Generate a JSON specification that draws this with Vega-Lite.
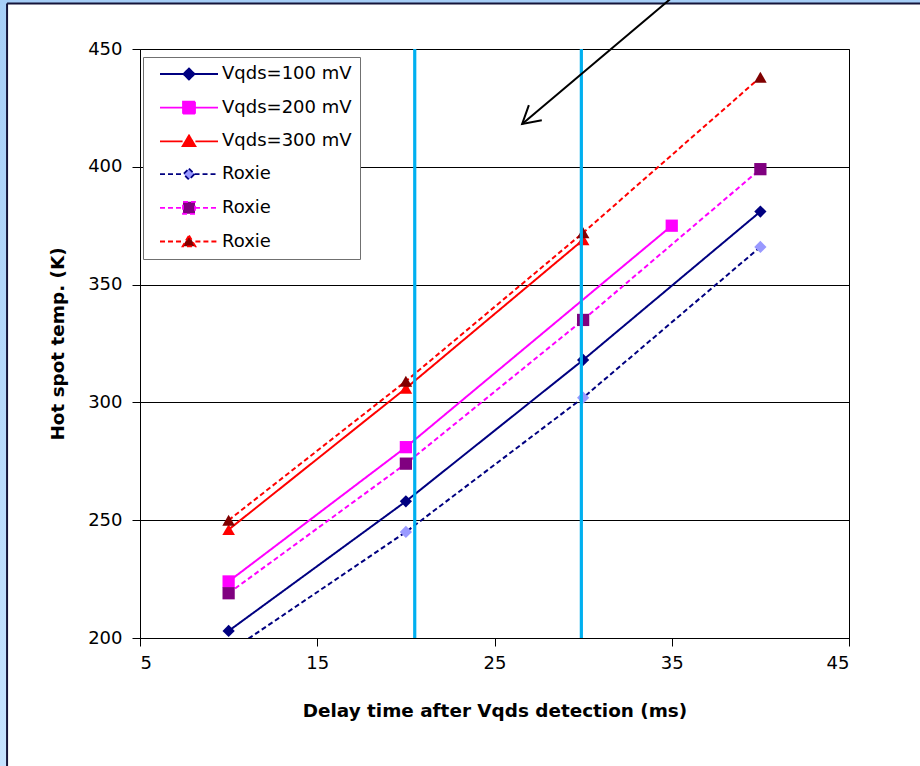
{
  "$schema": "https://vega.github.io/schema/vega-lite/v6.json",
  "width": 709,
  "height": 589,
  "autosize": {"type": "none"},
  "padding": {"left": 140, "top": 49, "right": 71, "bottom": 128},
  "background": "white",
  "config": {
    "font": "DejaVu Sans",
    "view": {"stroke": "#000000", "strokeWidth": 1},
    "axis": {
      "labelFont": "DejaVu Sans",
      "labelFontSize": 18,
      "labelColor": "black",
      "titleFont": "DejaVu Sans",
      "titleFontSize": 18.4,
      "titleFontWeight": "bold",
      "titleColor": "black",
      "domainColor": "black",
      "domainWidth": 1,
      "tickColor": "black",
      "tickSize": 8,
      "tickWidth": 1,
      "gridColor": "black",
      "gridOpacity": 1,
      "gridWidth": 1
    }
  },
  "data": {
    "values": [
      {"series": "Vqds=100 mV", "delay": 10, "temp": 203},
      {"series": "Vqds=100 mV", "delay": 20, "temp": 258},
      {"series": "Vqds=100 mV", "delay": 30, "temp": 318},
      {"series": "Vqds=100 mV", "delay": 40, "temp": 381},
      {"series": "Vqds=200 mV", "delay": 10, "temp": 224},
      {"series": "Vqds=200 mV", "delay": 20, "temp": 281},
      {"series": "Vqds=200 mV", "delay": 35, "temp": 375},
      {"series": "Vqds=300 mV", "delay": 10, "temp": 246},
      {"series": "Vqds=300 mV", "delay": 20, "temp": 306},
      {"series": "Vqds=300 mV", "delay": 30, "temp": 369},
      {"series": "Roxie 100", "delay": 10, "temp": 194},
      {"series": "Roxie 100", "delay": 20, "temp": 245},
      {"series": "Roxie 100", "delay": 30, "temp": 302},
      {"series": "Roxie 100", "delay": 40, "temp": 366},
      {"series": "Roxie 200", "delay": 10, "temp": 219},
      {"series": "Roxie 200", "delay": 20, "temp": 274},
      {"series": "Roxie 200", "delay": 30, "temp": 335},
      {"series": "Roxie 200", "delay": 40, "temp": 399},
      {"series": "Roxie 300", "delay": 10, "temp": 250},
      {"series": "Roxie 300", "delay": 20, "temp": 309},
      {"series": "Roxie 300", "delay": 30, "temp": 372},
      {"series": "Roxie 300", "delay": 40, "temp": 438}
    ]
  },
  "layer": [
    {
      "data": {"values": [{}]},
      "mark": {"type": "rect", "clip": false, "fill": {"gradient": "linear", "x1": 0, "y1": 0, "x2": 0, "y2": 1, "stops": [{"offset": 0, "color": "#a6cef7"}, {"offset": 1, "color": "#c6e3ff"}]}},
      "encoding": {
        "x": {"datum": -20, "type": "quantitative"},
        "x2": {"datum": -2.5},
        "y": {"datum": 480, "type": "quantitative"},
        "y2": {"datum": 140}
      }
    },
    {
      "data": {"values": [{}]},
      "mark": {"type": "rect", "clip": false, "fill": "#a6cef7"},
      "encoding": {
        "x": {"datum": -20, "type": "quantitative"},
        "x2": {"datum": 50},
        "y": {"datum": 480, "type": "quantitative"},
        "y2": {"datum": 469.3}
      }
    },
    {
      "data": {"values": [{}]},
      "mark": {"type": "rule", "clip": false, "color": "#15153a", "strokeWidth": 2},
      "encoding": {
        "x": {"datum": -2.5, "type": "quantitative"},
        "y": {"datum": 469.3, "type": "quantitative"},
        "y2": {"datum": 140}
      }
    },
    {
      "data": {"values": [{}]},
      "mark": {"type": "rule", "clip": false, "color": "#15153a", "strokeWidth": 2},
      "encoding": {
        "x": {"datum": -2.5, "type": "quantitative"},
        "x2": {"datum": 50},
        "y": {"datum": 469.3, "type": "quantitative"}
      }
    },
    {
      "mark": {"type": "line", "strokeWidth": 2, "clip": true},
      "encoding": {
        "x": {
          "field": "delay",
          "type": "quantitative",
          "title": "Delay time after Vqds detection (ms)",
          "scale": {"domain": [5, 45], "nice": false, "zero": false},
          "axis": {"values": [5, 15, 25, 35, 45], "grid": false, "labelPadding": 8, "titlePadding": 29, "zindex": 1}
        },
        "y": {
          "field": "temp",
          "type": "quantitative",
          "title": "Hot spot temp. (K)",
          "scale": {"domain": [200, 450], "nice": false, "zero": false},
          "axis": {"values": [200, 250, 300, 350, 400, 450], "grid": true, "labelPadding": 10, "titlePadding": 20}
        },
        "color": {
          "field": "series",
          "type": "nominal",
          "scale": {
            "domain": ["Vqds=100 mV", "Vqds=200 mV", "Vqds=300 mV", "Roxie 100", "Roxie 200", "Roxie 300"],
            "range": ["#000080", "#ff00ff", "#ff0000", "#000080", "#ff00ff", "#ff0000"]
          },
          "legend": {
            "orient": "none",
            "legendX": 3,
            "legendY": 8,
            "title": null,
            "direction": "vertical",
            "padding": 8,
            "fillColor": "white",
            "strokeColor": "#707070",
            "symbolSize": 256,
            "symbolStrokeWidth": 2,
            "symbolOffset": 29,
            "labelOffset": 24,
            "rowPadding": 13.7,
            "labelFont": "DejaVu Sans",
            "labelFontSize": 18,
            "labelColor": "black",
            "labelLimit": 300,
            "labelExpr": "indexof(datum.label, 'Roxie') == 0 ? 'Roxie' : datum.label",
            "encode": {
              "symbols": {
                "update": {
                  "shape": {"signal": "indexof(datum.value, '100') >= 0 ? 'M-3.625,0H-0.69M0.69,0H3.625M0,-0.69L0.69,0L0,0.69L-0.69,0Z' : indexof(datum.value, '200') >= 0 ? 'M-3.625,0H-0.75M0.75,0H3.625M-0.75,-0.75H0.75V0.75H-0.75Z' : 'M-3.625,0H-0.8M0.8,0H3.625M0,-0.75L0.8,0.6L-0.8,0.6Z'"},
                  "fill": {"signal": "scale('fill', datum.value)"},
                  "stroke": {"signal": "scale('color', datum.value)"},
                  "strokeDash": {"signal": "indexof(datum.value, 'Roxie') == 0 ? [4, 3] : [1, 0]"},
                  "strokeWidth": {"value": 1.8},
                  "opacity": {"value": 1}
                }
              }
            }
          }
        },
        "strokeDash": {
          "field": "series",
          "type": "nominal",
          "scale": {
            "domain": ["Vqds=100 mV", "Vqds=200 mV", "Vqds=300 mV", "Roxie 100", "Roxie 200", "Roxie 300"],
            "range": [[1, 0], [1, 0], [1, 0], [5, 3], [5, 3], [5, 3]]
          },
          "legend": null
        }
      }
    },
    {
      "transform": [{"filter": {"field": "series", "oneOf": ["Vqds=100 mV", "Roxie 100"]}}],
      "mark": {"type": "point", "shape": "diamond", "filled": true, "size": 150, "opacity": 1, "strokeWidth": 0, "clip": true},
      "encoding": {
        "x": {"field": "delay", "type": "quantitative"},
        "y": {"field": "temp", "type": "quantitative"},
        "fill": {
          "field": "series",
          "type": "nominal",
          "scale": {
            "domain": ["Vqds=100 mV", "Vqds=200 mV", "Vqds=300 mV", "Roxie 100", "Roxie 200", "Roxie 300"],
            "range": ["#000080", "#ff00ff", "#ff0000", "#9999ff", "#800080", "#800000"]
          },
          "legend": null
        }
      }
    },
    {
      "transform": [{"filter": {"field": "series", "oneOf": ["Vqds=200 mV", "Roxie 200"]}}],
      "mark": {"type": "point", "shape": "square", "filled": true, "size": 150, "opacity": 1, "strokeWidth": 0, "clip": true},
      "encoding": {
        "x": {"field": "delay", "type": "quantitative"},
        "y": {"field": "temp", "type": "quantitative"},
        "fill": {"field": "series", "type": "nominal", "legend": null}
      }
    },
    {
      "transform": [{"filter": {"field": "series", "oneOf": ["Vqds=300 mV", "Roxie 300"]}}],
      "mark": {"type": "point", "shape": "triangle-up", "filled": true, "size": 160, "opacity": 1, "strokeWidth": 0, "clip": true},
      "encoding": {
        "x": {"field": "delay", "type": "quantitative"},
        "y": {"field": "temp", "type": "quantitative"},
        "fill": {"field": "series", "type": "nominal", "legend": null}
      }
    },
    {
      "data": {"values": [{"delay": 20.5}, {"delay": 29.9}]},
      "mark": {"type": "rule", "color": "#00b0f0", "strokeWidth": 3.2},
      "encoding": {
        "x": {"field": "delay", "type": "quantitative"}
      }
    },
    {
      "data": {"values": [{}]},
      "mark": {"type": "rule", "clip": false, "color": "black", "strokeWidth": 2},
      "encoding": {
        "x": {"datum": 35.2, "type": "quantitative"},
        "y": {"datum": 473, "type": "quantitative"},
        "x2": {"datum": 26.56},
        "y2": {"datum": 418.2}
      }
    },
    {
      "data": {"values": [{}]},
      "mark": {"type": "point", "clip": false, "filled": false, "opacity": 1, "stroke": "black", "strokeWidth": 2, "shape": "M-1,-0.577L0,0L-1,0.577", "size": 1197, "angle": 139.66},
      "encoding": {
        "x": {"datum": 26.56, "type": "quantitative"},
        "y": {"datum": 418.2, "type": "quantitative"}
      }
    }
  ]
}
